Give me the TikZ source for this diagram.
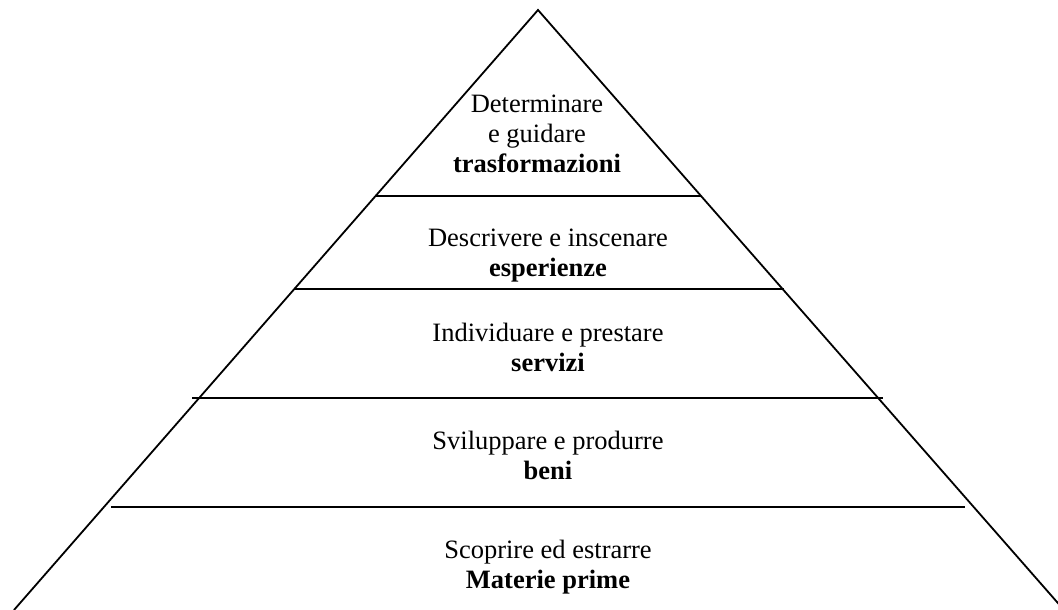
\documentclass[tikz,border=0pt]{standalone}
\usepackage{fontspec}
\setmainfont{Liberation Serif}
\usetikzlibrary{positioning}
\tikzset{
  edge/.style={line width=1.8pt, black},
  tier/.style={align=center, font=\fontsize{26.5}{30}\selectfont, inner sep=0pt, anchor=base},
}

\begin{document}
\begin{tikzpicture}[x=1pt, y=-1pt]
  \useasboundingbox (0,0) rectangle (1058,610);
  \clip (0,0) rectangle (1058,610);
  % outline
  \coordinate (apex) at (538,10);
  \coordinate (footL) at (14,610);
  \coordinate (footR) at (1064,610);
  \draw[edge] (footL) -- (apex) -- (footR);
  % tier lines
  \draw[edge] (375,196) -- (701,196);
  \draw[edge] (294,289) -- (784,289);
  \draw[edge] (192,398) -- (883,398);
  \draw[edge] (111,507) -- (965,507);
  % labels (base = last line)
  \node[tier] (trasf) at (537,172) {Determinare\\e guidare\\\textbf{trasformazioni}};
  \node[tier] (esper) at (548,276) {Descrivere e inscenare\\\textbf{esperienze}};
  \node[tier] (serv) at (548,371) {Individuare e prestare\\\textbf{servizi}};
  \node[tier] (beni) at (548,479) {Sviluppare e produrre\\\textbf{beni}};
  \node[tier] (mat) at (548,588) {Scoprire ed estrarre\\\textbf{Materie prime}};
\end{tikzpicture}
\end{document}
